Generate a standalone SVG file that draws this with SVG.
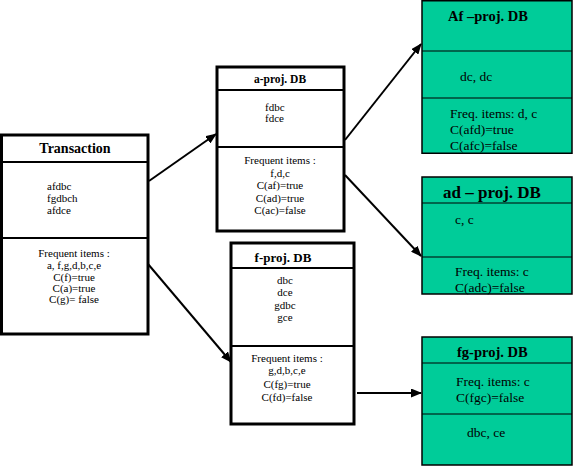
<svg xmlns="http://www.w3.org/2000/svg" width="573" height="466" viewBox="0 0 573 466">
<style>
.wb{fill:#fff;stroke:#000;stroke-width:3}
.wd{stroke:#000;stroke-width:2}
.gb{fill:#00CC99;stroke:#000;stroke-width:1.5}
.gd{stroke:#000;stroke-width:1}
.t{font-weight:bold}
.s{font-size:11px}
.c{text-anchor:middle}
.g{font-size:13.5px}
.ln{stroke:#000;stroke-width:2;fill:none}
</style>
<defs>
<marker id="ah" markerWidth="11" markerHeight="9" refX="10" refY="4.5" orient="auto" markerUnits="userSpaceOnUse">
<path d="M0,0 L11,4.5 L0,9 Z" fill="#000"/>
</marker>
</defs>
<rect width="573" height="466" fill="#fff"/>
<g font-family="'Liberation Serif', 'Times New Roman', serif" fill="#000">
<g id="transaction">
<rect class="wb" x="1.5" y="135" width="146.5" height="199"/>
<line class="wd" x1="1.5" y1="162" x2="148" y2="162"/>
<line class="wd" x1="1.5" y1="238" x2="148" y2="238"/>
<text class="t c" x="75" y="153" font-size="14">Transaction</text>
<text class="s" x="47" y="190">afdbc</text>
<text class="s" x="47" y="202">fgdbch</text>
<text class="s" x="47" y="214">afdce</text>
<text class="s c" x="74" y="257">Frequent items :</text>
<text class="s c" x="74" y="269">a, f,g,d,b,c,e</text>
<text class="s c" x="74" y="281">C(f)=true</text>
<text class="s c" x="74" y="292">C(a)=true</text>
<text class="s c" x="74" y="303">C(g)= false</text>
</g>
<g id="a-proj">
<rect class="wb" x="217" y="67" width="127" height="164"/>
<line class="wd" x1="217" y1="90" x2="344" y2="90"/>
<line class="wd" x1="217" y1="147" x2="344" y2="147"/>
<text class="t c" x="280" y="83" font-size="11.5">a-proj. DB</text>
<text class="s" x="265" y="111">fdbc</text>
<text class="s" x="265" y="122">fdce</text>
<text class="s c" x="280" y="164">Frequent items :</text>
<text class="s c" x="280" y="176.5">f,d,c</text>
<text class="s c" x="280" y="189">C(af)=true</text>
<text class="s c" x="280" y="201.5">C(ad)=true</text>
<text class="s c" x="280" y="214">C(ac)=false</text>
</g>
<g id="f-proj">
<rect class="wb" x="231" y="243" width="123" height="181"/>
<line class="wd" x1="231" y1="268" x2="354" y2="268"/>
<line class="wd" x1="231" y1="346" x2="354" y2="346"/>
<text class="t c" x="283" y="262" font-size="13">f-proj. DB</text>
<text class="s c" x="285" y="284">dbc</text>
<text class="s c" x="285" y="296">dce</text>
<text class="s c" x="285" y="309">gdbc</text>
<text class="s c" x="285" y="321">gce</text>
<text class="s c" x="287" y="362">Frequent items :</text>
<text class="s c" x="287" y="374">g,d,b,c,e</text>
<text class="s c" x="287" y="388">C(fg)=true</text>
<text class="s c" x="287" y="401">C(fd)=false</text>
</g>
<g id="af-proj">
<rect class="gb" x="422" y="0.75" width="150" height="152.5"/>
<line class="gd" x1="422" y1="51" x2="572" y2="51"/>
<line class="gd" x1="422" y1="98" x2="572" y2="98"/>
<text class="t" x="448" y="21" font-size="14.5">Af –proj. DB</text>
<text class="g" x="460" y="81">dc, dc</text>
<text class="g" x="450" y="118">Freq. items: d, c</text>
<text class="g" x="450" y="134">C(afd)=true</text>
<text class="g" x="450" y="150">C(afc)=false</text>
</g>
<g id="ad-proj">
<rect class="gb" x="422" y="177" width="150" height="117"/>
<line class="gd" x1="422" y1="203" x2="572" y2="203"/>
<line class="gd" x1="422" y1="257" x2="572" y2="257"/>
<text class="t" x="443" y="198" font-size="17">ad – proj. DB</text>
<text class="g" x="455" y="224">c, c</text>
<text class="g" x="455" y="276">Freq. items: c</text>
<text class="g" x="455" y="292">C(adc)=false</text>
</g>
<g id="fg-proj">
<rect class="gb" x="422" y="337" width="150" height="128"/>
<line class="gd" x1="422" y1="363" x2="572" y2="363"/>
<line class="gd" x1="422" y1="414" x2="572" y2="414"/>
<text class="t" x="457" y="357" font-size="14.5">fg-proj. DB</text>
<text class="g" x="456" y="386">Freq. items: c</text>
<text class="g" x="456" y="402">C(fgc)=false</text>
<text class="g" x="467" y="437">dbc, ce</text>
</g>
</g>
<g id="connectors">
<line class="ln" x1="149" y1="181" x2="216" y2="134" marker-end="url(#ah)"/>
<line class="ln" x1="148" y1="264" x2="231" y2="362" marker-end="url(#ah)"/>
<line class="ln" x1="345" y1="140" x2="421" y2="44" marker-end="url(#ah)"/>
<line class="ln" x1="345" y1="175" x2="421" y2="256" marker-end="url(#ah)"/>
<line class="ln" x1="357" y1="393" x2="421" y2="393" marker-end="url(#ah)"/>
</g>
</svg>
